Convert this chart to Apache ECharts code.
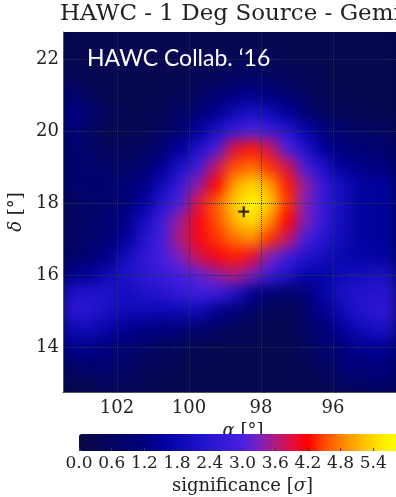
<!DOCTYPE html>
<html><head><meta charset="utf-8">
<script src="https://cdn.jsdelivr.net/npm/echarts@6/dist/echarts.min.js"></script>
<style>html,body{margin:0;padding:0;background:#fff}
#wrap{position:relative;width:396px;height:497px;overflow:hidden}
#under{position:absolute;left:63px;top:32px;width:360px;height:360px;background:#06064c}
#c{position:absolute;left:0;top:0;width:396px;height:497px}</style>
</head><body><div id="wrap"><div id="under"></div><div id="c"></div></div>
<script>
// Right ascension cell centres (deg), left to right
const raCenters = [103.25,102.75,102.25,101.75,101.25,100.75,100.25,99.75,99.25,98.75,98.25,97.75,97.25,96.75,96.25,95.75,95.25,94.75,94.25,93.75];
// Declination cell centres (deg), bottom to top
const decCenters = [13.0,13.5,14.0,14.5,15.0,15.5,16.0,16.5,17.0,17.5,18.0,18.5,19.0,19.5,20.0,20.5,21.0,21.5,22.0,22.5];
// Significance rows, top row (dec 22.5) first, columns follow raCenters
const sigRows = [
 [0.3,0.3,0.3,0.3,0.3,0.3,0.3,0.3,0.3,0.3,0.3,0.3,0.3,0.3,0.3,0.3,0.3,0.3,0.3,0.3],
 [0.3,0.3,0.3,0.3,0.3,0.3,0.3,0.3,0.3,0.4,0.4,0.4,0.3,0.3,0.3,0.3,0.3,0.3,0.3,0.3],
 [0.5,0.3,0.3,0.3,0.3,0.3,0.3,0.4,0.5,0.6,0.7,0.6,0.5,0.4,0.3,0.3,0.3,0.3,0.3,0.3],
 [0.9,0.5,0.3,0.3,0.3,0.3,0.4,0.6,0.9,1.2,1.4,1.2,0.9,0.6,0.4,0.3,0.3,0.3,0.3,0.3],
 [1.3,0.9,0.5,0.3,0.3,0.4,0.7,1.0,1.4,1.9,2.1,1.9,1.5,0.9,0.6,0.4,0.3,0.3,0.3,0.3],
 [1.1,0.7,0.3,0.3,0.4,0.6,1.0,1.5,2.1,2.7,3.0,2.8,2.4,1.7,1.2,0.9,0.7,0.6,0.6,0.6],
 [0.9,0.7,0.5,0.5,0.6,1.0,1.5,2.2,2.9,3.9,4.3,3.8,3.0,2.2,1.5,1.2,1.0,0.9,0.9,0.9],
 [0.9,0.8,0.7,0.7,0.9,1.4,2.1,2.8,3.7,4.5,4.7,4.4,3.8,2.9,2.1,1.5,1.3,1.2,1.2,1.2],
 [0.9,0.9,0.9,1.0,1.3,1.9,2.7,3.4,4.2,5.0,5.4,5.0,4.3,3.4,2.6,2.0,1.6,1.5,1.5,1.5],
 [0.6,0.7,0.9,1.1,1.5,2.4,3.0,3.9,4.6,5.3,5.7,5.3,4.4,3.3,2.6,2.0,1.6,1.5,1.5,1.5],
 [0.6,0.7,1.0,1.3,2.0,2.8,3.5,4.1,4.5,5.1,5.5,4.9,4.2,3.3,2.6,2.0,1.6,1.5,1.5,1.5],
 [0.7,0.8,1.1,1.5,2.3,2.9,3.6,4.1,4.4,4.7,4.9,4.4,3.7,2.9,2.4,1.9,1.6,1.5,1.5,1.5],
 [0.8,0.9,1.3,2.0,2.5,2.9,3.3,3.8,4.1,4.3,4.0,3.3,2.8,2.3,2.0,1.8,1.7,1.6,1.6,1.6],
 [1.4,1.5,1.9,2.2,2.5,2.7,2.9,3.1,3.4,3.6,3.3,2.7,2.2,1.7,1.7,1.9,2.0,2.1,2.1,2.1],
 [2.2,2.3,2.2,2.0,2.2,2.4,2.6,2.8,2.8,2.3,1.4,1.0,0.8,1.1,1.7,2.1,2.3,2.4,2.4,2.4],
 [2.5,2.4,2.1,1.9,1.9,1.8,1.9,1.9,1.4,1.0,0.8,0.5,0.4,0.8,1.4,1.9,2.3,2.5,2.5,2.5],
 [1.9,1.9,1.7,1.4,1.3,1.2,1.1,0.9,0.7,0.5,0.4,0.3,0.3,0.7,1.1,1.5,1.9,2.1,2.1,2.1],
 [1.4,1.3,1.2,1.0,0.8,0.6,0.5,0.4,0.3,0.3,0.3,0.3,0.3,0.5,0.9,1.2,1.4,1.5,1.5,1.5],
 [0.8,1.0,0.9,0.7,0.5,0.4,0.3,0.3,0.3,0.3,0.3,0.3,0.3,0.4,0.6,1.0,1.1,1.2,1.2,1.2],
 [0.3,0.4,0.6,0.5,0.4,0.3,0.3,0.3,0.3,0.3,0.3,0.3,0.3,0.3,0.4,0.6,0.8,0.9,0.9,0.9]
];
const raTicks = [102,100,98,96];
const decTicks = [14,16,18,20,22];
const cbarTicks = [0.0,0.6,1.2,1.8,2.4,3.0,3.6,4.2,4.8,5.4];
const sourcePos = [98.48, 17.76];
const cmapColors = ['#0a0a45','#070752','#050562','#020270','#00007f','#00009a','#0808b0','#1a10c2','#2814d0','#381ada','#4a20e0','#7a20c0','#b01a80','#e01040','#ff0000','#ff4a00','#ff8000','#ffb000','#ffd800','#fff800','#ffff00'];

const heatData = [];
sigRows.forEach((row, i) => {
  const yi = decCenters.length - 1 - i;
  row.forEach((v, xi) => heatData.push([xi, yi, v]));
});

const serif = 'DejaVu Serif';
const gridLine = {show: true, lineStyle: {type: 'dotted', color: 'rgba(30,62,62,0.95)', width: 1}};
const nameRich = {
  i: {fontFamily: serif, fontStyle: 'italic', fontSize: 18, color: '#222'},
  n: {fontFamily: serif, fontSize: 18, color: '#222'}
};
const chart = echarts.init(document.getElementById('c'), null, {renderer: 'canvas'});
chart.setOption({
  animation: false,
  backgroundColor: 'transparent',
  title: {
    zlevel: 1,
    text: 'HAWC - 1 Deg Source - Geminga',
    left: 60, top: 3, padding: 0,
    textStyle: {fontFamily: serif, fontSize: 23, fontWeight: 'normal', color: '#222'}
  },
  graphic: [{
    type: 'text', left: 87, top: 47, z: 20, zlevel: 1,
    style: {text: 'HAWC Collab. \u201816', fill: '#fff', font: '23px Lato'}
  }],
  grid: [
    {left: 63, top: 32, width: 360, height: 360, outerBoundsMode: 'none', containLabel: false},
    {left: 63, top: 32, width: 360, height: 360, outerBoundsMode: 'none', containLabel: false},
    {left: 79, top: 434, width: 327, height: 17, outerBoundsMode: 'none', containLabel: false}
  ],
  xAxis: [
    {gridIndex: 0, type: 'category', data: raCenters.map(String), show: false},
    {gridIndex: 1, type: 'value', min: 93.5, max: 103.5, inverse: true, zlevel: 1,
     axisLine: {show: true, onZero: false, lineStyle: {color: '#555', width: 1}},
     axisTick: {show: false, customValues: raTicks},
     axisLabel: {customValues: raTicks, margin: 7, fontFamily: serif, fontSize: 18, color: '#222'},
     splitLine: gridLine,
     name: '{i|α} {n|[°]}', nameLocation: 'middle', nameGap: 25,
     nameTextStyle: {fontFamily: serif, fontSize: 18, color: '#222', rich: nameRich}},
    {gridIndex: 2, type: 'value', min: 0, max: 6, interval: 0.6, zlevel: 1, z: 5,
     axisLine: {show: false},
     axisTick: {show: true, inside: true, length: 3, lineStyle: {color: '#333'}},
     axisLabel: {showMaxLabel: false, margin: 4, fontFamily: serif, fontSize: 17, color: '#222',
       formatter: v => v.toFixed(1)},
     splitLine: {show: false},
     name: '{n|significance [}{i|σ}{n|]}', nameLocation: 'middle', nameGap: 26,
     nameTextStyle: {fontFamily: serif, fontSize: 18, color: '#222', rich: nameRich}}
  ],
  yAxis: [
    {gridIndex: 0, type: 'category', data: decCenters.map(v => v.toFixed(1)), show: false},
    {gridIndex: 1, type: 'value', min: 12.75, max: 22.75, zlevel: 1,
     axisLine: {show: true, onZero: false, lineStyle: {color: '#555', width: 1}},
     axisTick: {show: false, customValues: decTicks},
     axisLabel: {customValues: decTicks, margin: 4, fontFamily: serif, fontSize: 18, color: '#222'},
     splitLine: gridLine,
     name: '{i|δ} {n|[°]}', nameLocation: 'middle', nameGap: 30, nameRotate: 90,
     nameTextStyle: {fontFamily: serif, fontSize: 18, color: '#222', rich: nameRich}},
    {gridIndex: 2, type: 'value', show: false, min: 0, max: 1}
  ],
  visualMap: {
    type: 'continuous', min: 0, max: 6, seriesIndex: 0, calculable: false, hoverLink: false, zlevel: 1,
    orient: 'horizontal', left: 79, top: 434, itemWidth: 17, itemHeight: 327, padding: 0,
    text: ['', ''], inRange: {color: cmapColors}
  },
  series: [
    {type: 'heatmap', xAxisIndex: 0, yAxisIndex: 0, data: heatData, zlevel: 0,
     itemStyle: {borderWidth: 0}, emphasis: {disabled: true}},
    {type: 'scatter', xAxisIndex: 1, yAxisIndex: 1, data: [sourcePos], z: 10, zlevel: 1,
     symbol: 'path://M4,0H6V4H10V6H6V10H4V6H0V4H4Z', symbolSize: 11,
     itemStyle: {color: '#000'}}
  ]
});
// smooth the heat layer only (post-processing of the zlevel-0 canvas)
const layer = chart.getZr().painter.getLayer(0);
if (layer && layer.dom) {
  layer.dom.style.filter = 'blur(7px)';
  layer.dom.style.clipPath = 'inset(32px 0px 105px 63px)';
}
</script></body></html>
